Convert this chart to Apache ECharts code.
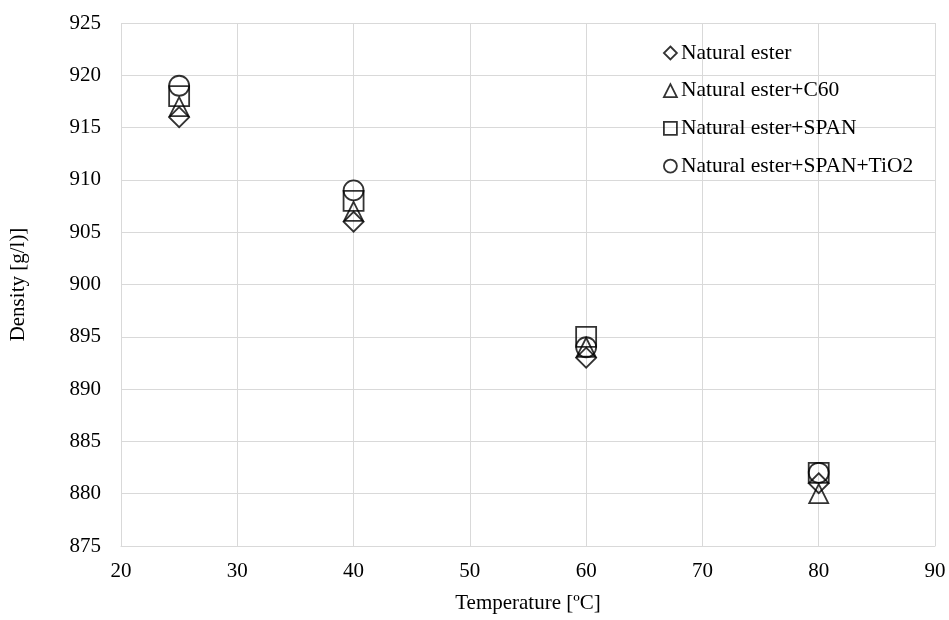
<!DOCTYPE html>
<html><head><meta charset="utf-8">
<script src="https://cdn.jsdelivr.net/npm/echarts@6/dist/echarts.min.js"></script>
<style>html,body{margin:0;padding:0;background:#fff}#c{width:949px;height:620px}</style>
</head><body><div id="c"></div>
<script>
const temps = [25, 40, 60, 80];
const seriesNames = ['Natural ester', 'Natural ester+C60', 'Natural ester+SPAN', 'Natural ester+SPAN+TiO2'];
const naturalEster = [916, 906, 893, 881];
const esterC60 = [917, 907, 894, 880];
const esterSpan = [918, 908, 895, 882];
const esterSpanTiO2 = [919, 909, 894, 882];
const symbols = ['path://M0,-1L1,0L0,1L-1,0Z', 'triangle', 'rect', 'circle'];
const values = [naturalEster, esterC60, esterSpan, esterSpanTiO2];
const font = '"Liberation Serif", "Times New Roman", serif';

const chart = echarts.init(document.getElementById('c'));
chart.setOption({
  animation: false,
  textStyle: { fontFamily: font },
  grid: { left: 120, right: 14, top: 23, bottom: 74 },
  legend: {
    orient: 'vertical', left: 658, top: 37, itemGap: 15.7,
    itemWidth: 13, itemHeight: 13,
    textStyle: { fontFamily: font, fontSize: 21.5, lineHeight: 21, color: '#000', padding: [0, 0, 0, -1] },
    data: seriesNames.map((n, i) => ({ name: n, icon: symbols[i], itemStyle: { color: 'transparent', borderColor: '#000', borderWidth: 1.8 } }))
  },
  xAxis: {
    type: 'value', min: 20, max: 90, interval: 10,
    name: 'Temperature [ºC]', nameLocation: 'middle', nameGap: 47,
    nameTextStyle: { fontFamily: font, fontSize: 21, color: '#000' },
    axisLine: { show: true, lineStyle: { color: '#d9d9d9' } },
    axisTick: { show: false },
    axisLabel: { fontFamily: font, fontSize: 21, color: '#000', margin: 15 },
    splitLine: { show: true, lineStyle: { color: '#d9d9d9' } }
  },
  yAxis: {
    type: 'value', min: 875, max: 925, interval: 5,
    name: 'Density [g/l)]', nameLocation: 'middle', nameGap: 92,
    nameTextStyle: { fontFamily: font, fontSize: 21, color: '#000' },
    axisLine: { show: false },
    axisTick: { show: false },
    axisLabel: { fontFamily: font, fontSize: 21, color: '#000', margin: 20 },
    splitLine: { show: true, lineStyle: { color: '#d9d9d9' } }
  },
  series: seriesNames.map((n, i) => ({
    name: n, type: 'scatter',
    symbol: symbols[i],
    symbolSize: i === 1 ? 19 : 20,
    itemStyle: { color: 'transparent', borderColor: '#000', borderWidth: 1.8 },
    data: temps.map((t, j) => [t, values[i][j]])
  }))
});
</script></body></html>
